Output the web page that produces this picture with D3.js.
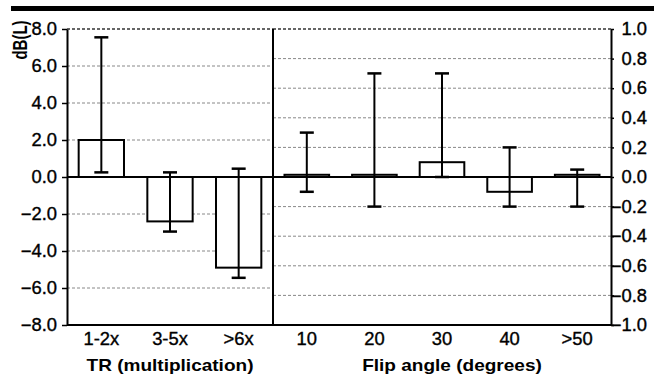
<!DOCTYPE html>
<html>
<head>
<meta charset="utf-8">
<script src="https://cdn.jsdelivr.net/npm/d3@7"></script>
<style>
  body { margin: 0; background: #fff; }
  svg { display: block; font-family: Arial, "Liberation Sans", sans-serif; }
</style>
</head>
<body>
<svg id="drawing_region"></svg>
<script>
// left panel: TR (multiplication), values in dB(L)
const trCategories = ['1-2x', '3-5x', '>6x'];
const trValues = [2.0, -2.4, -4.9];
const trErrLow = [0.25, -2.95, -5.45];
const trErrHigh = [7.55, 0.25, 0.45];

// right panel: flip angle (degrees), right axis
const flipCategories = ['10', '20', '30', '40', '>50'];
const flipValues = [0.015, 0.015, 0.1, -0.1, 0.015];
const flipErrLow = [-0.1, -0.2, 0.0, -0.2, -0.2];
const flipErrHigh = [0.3, 0.7, 0.7, 0.2, 0.05];

const leftTicks = [-8, -6, -4, -2, 0, 2, 4, 6, 8];
const rightTicks = [-1, -0.8, -0.6, -0.4, -0.2, 0, 0.2, 0.4, 0.6, 0.8, 1];

const W = 654, H = 380;
const SX = 1.05; // the scanned text is a little wide
const FS = 17.5;

const svg = d3.select('#drawing_region')
    .attr('width', W)
    .attr('height', H);

const x0 = 67, xMid = 273, x1 = 611, yTop = 29, yBot = 325;

const yLeft = d3.scaleLinear().domain([-8, 8]).range([yBot, yTop]);
const yRight = d3.scaleLinear().domain([-1, 1]).range([yBot, yTop]);
const xLeft = d3.scaleBand().domain(trCategories).range([x0, xMid]);
const xRight = d3.scaleBand().domain(flipCategories).range([xMid, x1]);

// top black rule
svg.append('rect')
    .attr('x', 11).attr('y', 6)
    .attr('width', W - 11).attr('height', 5)
    .attr('fill', '#000');

// grid lines
const grid = svg.append('g');
grid.selectAll('.gl')
    .data(leftTicks.filter(d => d !== 0 && d !== -8))
    .enter().append('line')
    .attr('x1', x0).attr('x2', xMid)
    .attr('y1', d => yLeft(d)).attr('y2', d => yLeft(d))
    .attr('stroke', d => d === 8 ? '#333' : '#888')
    .attr('stroke-width', d => d === 8 ? 1.5 : 1)
    .attr('stroke-dasharray', '3,2');
grid.selectAll('.gr')
    .data(rightTicks.filter(d => d !== 0 && d !== -1))
    .enter().append('line')
    .attr('x1', xMid).attr('x2', x1)
    .attr('y1', d => yRight(d)).attr('y2', d => yRight(d))
    .attr('stroke', d => d === 1 ? '#333' : '#888')
    .attr('stroke-width', d => d === 1 ? 1.5 : 1)
    .attr('stroke-dasharray', '3,2');

// bars + error bars
function drawPanel(xs, ys, cats, vals, lo, hi) {
    const step = xs.step();
    const bw = step * 0.66;
    const cx = c => xs(c) + step / 2;
    const g = svg.append('g');
    g.selectAll('rect')
        .data(cats)
        .enter().append('rect')
        .attr('x', c => cx(c) - bw / 2)
        .attr('y', (c, i) => Math.min(ys(vals[i]), ys(0)))
        .attr('width', bw)
        .attr('height', (c, i) => Math.abs(ys(vals[i]) - ys(0)))
        .attr('fill', '#fff')
        .attr('stroke', '#000')
        .attr('stroke-width', 2);
    g.selectAll('.eb')
        .data(cats)
        .enter().append('line')
        .attr('x1', c => cx(c)).attr('x2', c => cx(c))
        .attr('y1', (c, i) => ys(lo[i])).attr('y2', (c, i) => ys(hi[i]))
        .attr('stroke', '#000').attr('stroke-width', 2);
    [lo, hi].forEach(arr => {
        g.selectAll(null)
            .data(cats)
            .enter().append('line')
            .attr('x1', c => cx(c) - 7).attr('x2', c => cx(c) + 7)
            .attr('y1', (c, i) => ys(arr[i])).attr('y2', (c, i) => ys(arr[i]))
            .attr('stroke', '#000').attr('stroke-width', 2.5);
    });
}
drawPanel(xLeft, yLeft, trCategories, trValues, trErrLow, trErrHigh);
drawPanel(xRight, yRight, flipCategories, flipValues, flipErrLow, flipErrHigh);

// zero line, divider, bottom line
svg.append('line')
    .attr('x1', x0).attr('x2', x1)
    .attr('y1', yLeft(0)).attr('y2', yLeft(0))
    .attr('stroke', '#000').attr('stroke-width', 2);
svg.append('line')
    .attr('x1', xMid).attr('x2', xMid)
    .attr('y1', yTop).attr('y2', yBot)
    .attr('stroke', '#000').attr('stroke-width', 2);
svg.append('line')
    .attr('x1', x0).attr('x2', x1)
    .attr('y1', yBot).attr('y2', yBot)
    .attr('stroke', '#000').attr('stroke-width', 2);

// left axis
const leftAxis = svg.append('g')
    .attr('transform', `translate(${x0},0)`)
    .call(d3.axisLeft(yLeft).tickValues(leftTicks).tickSize(5).tickSizeOuter(0)
        .tickFormat(d3.format('.1f')));
leftAxis.select('.domain').attr('stroke-width', 2);
leftAxis.selectAll('.tick line').attr('stroke-width', 1.5);
leftAxis.selectAll('text')
    .attr('font-size', FS)
    .attr('font-family', 'Arial, "Liberation Sans", sans-serif')
    .attr('fill', '#000')
    .attr('stroke', '#000').attr('stroke-width', 0.35)
    .attr('x', -10 / SX)
    .attr('transform', `scale(${SX},1)`);

// right axis
const rightAxis = svg.append('g')
    .attr('transform', `translate(${x1},0)`)
    .call(d3.axisRight(yRight).tickValues(rightTicks).tickSize(3).tickSizeOuter(0)
        .tickFormat(d3.format('.1f')));
rightAxis.select('.domain').attr('stroke-width', 2);
rightAxis.selectAll('.tick line').attr('stroke-width', 1.5);
rightAxis.selectAll('text')
    .attr('font-size', FS)
    .attr('font-family', 'Arial, "Liberation Sans", sans-serif')
    .attr('fill', '#000')
    .attr('stroke', '#000').attr('stroke-width', 0.35)
    .attr('text-anchor', 'end')
    .attr('x', 36 / SX)
    .attr('transform', `scale(${SX},1)`);

// category labels
function catLabels(xs, cats) {
    svg.append('g').selectAll('text')
        .data(cats)
        .enter().append('text')
        .attr('transform', c => `translate(${xs(c) + xs.step() / 2},345) scale(${SX},1)`)
        .attr('text-anchor', 'middle')
        .attr('font-size', FS)
        .attr('stroke', '#000').attr('stroke-width', 0.35)
        .text(c => c);
}
catLabels(xLeft, trCategories);
catLabels(xRight, flipCategories);

// axis titles
svg.append('text')
    .attr('transform', `translate(170,371) scale(1.12,1)`)
    .attr('text-anchor', 'middle')
    .attr('font-size', 17)
    .attr('font-weight', 'bold')
    .text('TR (multiplication)');
svg.append('text')
    .attr('transform', `translate(452,371) scale(1.12,1)`)
    .attr('text-anchor', 'middle')
    .attr('font-size', 17)
    .attr('font-weight', 'bold')
    .text('Flip angle (degrees)');
svg.append('text')
    .attr('transform', `translate(27,40) scale(1.3,1) rotate(-90)`)
    .attr('text-anchor', 'middle')
    .attr('font-size', 15)
    .attr('font-weight', 'bold')
    .text('dB(L)');
</script>
</body>
</html>
